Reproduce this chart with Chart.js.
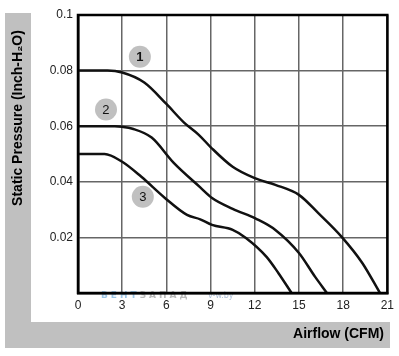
<!DOCTYPE html>
<html>
<head>
<meta charset="utf-8">
<script src="https://cdn.jsdelivr.net/npm/chart.js@4"></script>
<style>
  html, body { margin: 0; padding: 0; background: #fff; }
  #wrap { width: 399px; height: 356px; position: relative; }
</style>
</head>
<body>
<div id="wrap"><canvas id="fanChart"></canvas></div>
<script>
// airflow (CFM) / static pressure (inch H2O)
const fan1Flow = [0, 2, 3, 4.5, 6, 7.2, 8.2, 9, 10.5, 12, 13.4, 15, 16.3, 17.9, 19.3, 20.5];
const fan1Pressure = [0.08, 0.08, 0.0793, 0.0757, 0.068, 0.0613, 0.0569, 0.0525, 0.0454, 0.0413, 0.0389, 0.0353, 0.0288, 0.0202, 0.0108, 0];
const fan2Flow = [0, 2.5, 3, 3.7, 5, 6.5, 8.3, 9.1, 10.5, 12.1, 13.4, 15, 16.1, 16.9];
const fan2Pressure = [0.06, 0.06, 0.0598, 0.0591, 0.0559, 0.0468, 0.038, 0.0342, 0.0303, 0.0267, 0.0227, 0.0144, 0.0058, 0];
const fan3Flow = [0, 1.8, 3, 4.3, 5.9, 7.4, 8.3, 9.1, 10.5, 11.4, 12.8, 13.6, 14.5];
const fan3Pressure = [0.05, 0.05, 0.0472, 0.0418, 0.0342, 0.0281, 0.0265, 0.0245, 0.0227, 0.0198, 0.013, 0.0072, 0];

// numbered markers
const markerText = ['1', '2', '3'];
const markerFlow = [4.2, 1.9, 4.4];
const markerPressure = [0.085, 0.066, 0.0346];

const xTitle = 'Airflow (CFM)';
const yTitle = 'Static Pressure (Inch-H\u2082O)';

const toPoints = (xs, ys) => xs.map((x, i) => ({ x: x, y: ys[i] }));

const frame = {
    id: 'frame',
    beforeDraw(chart) {
        const ctx = chart.ctx;
        ctx.save();
        ctx.fillStyle = '#c0c0c0';
        ctx.fillRect(5, 13, 26, 335);
        ctx.fillRect(5, 322, 385, 26);
        ctx.fillStyle = '#000';
        ctx.font = 'bold 14px "Liberation Sans", Arial, sans-serif';
        ctx.textAlign = 'right';
        ctx.textBaseline = 'middle';
        ctx.fillText(xTitle, 384, 334);
        ctx.translate(18, 118);
        ctx.rotate(-Math.PI / 2);
        ctx.textAlign = 'center';
        ctx.fillText(yTitle, 0, 0);
        ctx.restore();

        // watermark
        ctx.save();
        ctx.font = 'bold 9px "DejaVu Sans", sans-serif';
        ctx.textBaseline = 'middle';
        ctx.textAlign = 'left';
        let x = 101;
        'ВЕНТЗАПАД'.split('').forEach((c, i) => {
            ctx.fillStyle = i < 4 ? 'rgba(90,160,215,0.6)' : 'rgba(140,140,140,0.6)';
            ctx.fillText(c, x, 296);
            x += ctx.measureText(c).width + 3;
        });
        ctx.font = '8px "DejaVu Sans", sans-serif';
        ctx.fillStyle = 'rgba(120,150,190,0.6)';
        ctx.fillText('v-w.by', 208, 296);
        ctx.restore();
    },
    afterDraw(chart) {
        const ctx = chart.ctx;
        const a = chart.chartArea;
        ctx.save();
        ctx.strokeStyle = '#000';
        ctx.lineWidth = 2.5;
        ctx.strokeRect(a.left, a.top, a.right - a.left, a.bottom - a.top);

        const xs = chart.scales.x, ys = chart.scales.y;
        markerText.forEach((t, i) => {
            const px = xs.getPixelForValue(markerFlow[i]);
            const py = ys.getPixelForValue(markerPressure[i]);
            ctx.beginPath();
            ctx.arc(px, py, 11, 0, Math.PI * 2);
            ctx.fillStyle = '#c0c0c0';
            ctx.fill();
            ctx.fillStyle = '#111';
            ctx.font = (i === 0 ? 'bold ' : '') + '13px "Liberation Sans", Arial, sans-serif';
            ctx.textAlign = 'center';
            ctx.textBaseline = 'middle';
            ctx.fillText(t, px, py + 1);
        });
        ctx.restore();
    }
};

const curveStyle = {
    borderColor: '#111',
    borderWidth: 2.5,
    pointRadius: 0,
    fill: false,
    cubicInterpolationMode: 'monotone'
};

new Chart(document.getElementById('fanChart'), {
    type: 'line',
    data: {
        datasets: [
            Object.assign({ label: '1', data: toPoints(fan1Flow, fan1Pressure) }, curveStyle),
            Object.assign({ label: '2', data: toPoints(fan2Flow, fan2Pressure) }, curveStyle),
            Object.assign({ label: '3', data: toPoints(fan3Flow, fan3Pressure) }, curveStyle)
        ]
    },
    options: {
        responsive: true,
        maintainAspectRatio: false,
        animation: false,
        layout: { padding: { top: 15, right: 10, left: 0, bottom: 0 } },
        plugins: { legend: { display: false }, tooltip: { enabled: false } },
        scales: {
            x: {
                type: 'linear',
                min: 0,
                max: 21,
                afterFit: s => { s.height = 63; },
                ticks: {
                    stepSize: 3,
                    padding: 5,
                    color: '#222',
                    font: { family: '"Liberation Sans", Arial, sans-serif', size: 12 }
                },
                grid: { color: '#666', lineWidth: 1.5, drawTicks: false },
                border: { color: '#000', width: 2.5 }
            },
            y: {
                min: 0,
                max: 0.1,
                afterFit: s => { s.width = 78; },
                ticks: {
                    stepSize: 0.02,
                    padding: 5,
                    color: '#222',
                    font: { family: '"Liberation Sans", Arial, sans-serif', size: 12 },
                    // the shared origin is labelled once, on the x axis
                    callback: v => v === 0 ? '' : String(parseFloat(v.toFixed(2)))
                },
                grid: { color: '#666', lineWidth: 1.5, drawTicks: false },
                border: { color: '#000', width: 2.5 }
            }
        }
    },
    plugins: [frame]
});
</script>
</body>
</html>
